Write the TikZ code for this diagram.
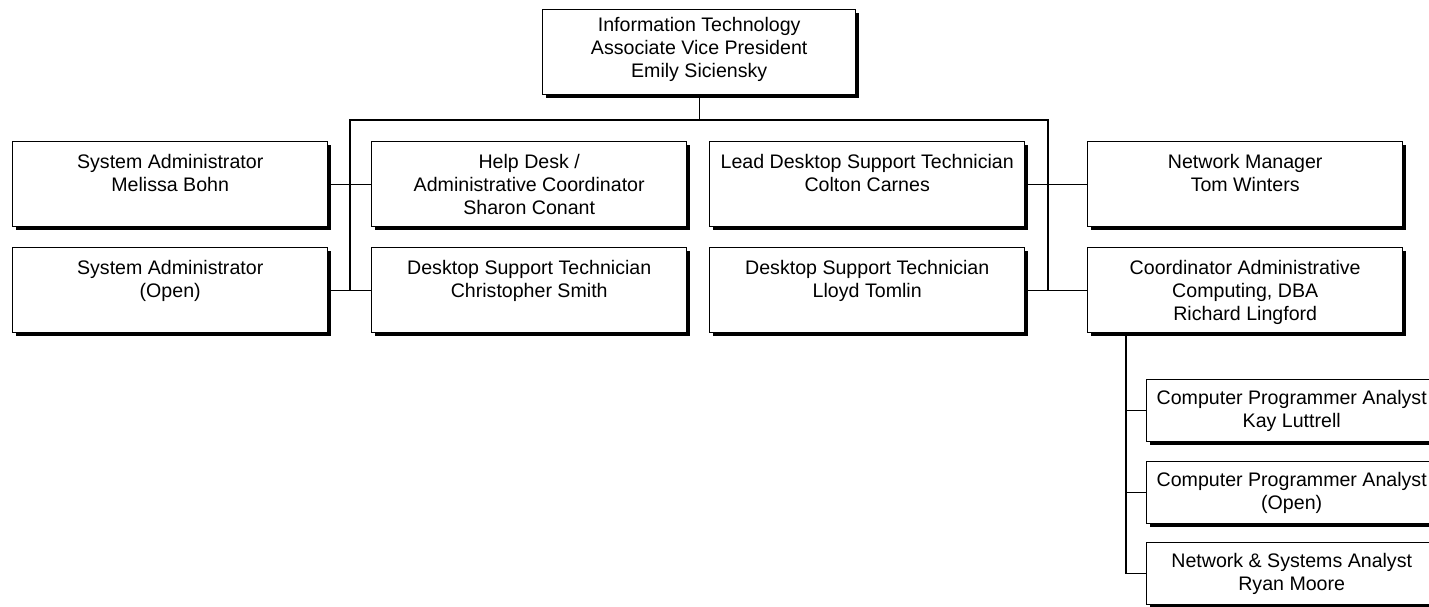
\documentclass[tikz,border=0pt]{standalone}
\usepackage{fontspec}
\setmainfont{Liberation Sans}
\usetikzlibrary{positioning,shadows}
\newcommand{\orgfont}{\fontsize{19.6}{23}\selectfont}

\begin{document}
\begin{tikzpicture}[x=1pt,y=-1pt]
        \tikzstyle{orgbox}=[draw=black,line width=1.4pt,fill=white,minimum width=315pt,minimum height=85pt,inner sep=0pt,anchor=north west,drop shadow={shadow xshift=3pt,shadow yshift=-3pt,fill=black,opacity=1}]
        \tikzstyle{subbox}=[orgbox,minimum width=290pt,minimum height=62pt,align=center,font=\orgfont]
        \tikzstyle{boxtext}=[align=center,inner sep=0pt,font=\orgfont]
        \tikzstyle{orgline}=[draw=black,line width=1.4pt]
        \useasboundingbox (0,0) rectangle (1429,607);
        \clip (0,0) rectangle (1429,607);
        % head of the department
        \node[orgbox,minimum width=313pt] (avp) at (542,9) {};
        \node[boxtext,below=8.5pt of avp.north] (avptext) {Information Technology\\Associate Vice President\\Emily Siciensky};
        % first row
        \node[orgbox] (sysbohn) at (12,141) {};
        \node[boxtext,below=13pt of sysbohn.north] (sysbohntext) {System Administrator\\Melissa Bohn};
        \node[orgbox] (helpdesk) at (371,141) {};
        \node[boxtext,below=13pt of helpdesk.north] (helpdesktext) {Help Desk /\\Administrative Coordinator\\Sharon Conant};
        \node[orgbox] (leadcarnes) at (709,141) {};
        \node[boxtext,below=13pt of leadcarnes.north] (leadcarnestext) {Lead Desktop Support Technician\\Colton Carnes};
        \node[orgbox] (netmgr) at (1087,141) {};
        \node[boxtext,below=13pt of netmgr.north] (netmgrtext) {Network Manager\\Tom Winters};
        % second row
        \node[orgbox] (sysopen) at (12,247) {};
        \node[boxtext,below=13pt of sysopen.north] (sysopentext) {System Administrator\\(Open)};
        \node[orgbox] (dsmith) at (371,247) {};
        \node[boxtext,below=13pt of dsmith.north] (dsmithtext) {Desktop Support Technician\\Christopher Smith};
        \node[orgbox] (dtomlin) at (709,247) {};
        \node[boxtext,below=13pt of dtomlin.north] (dtomlintext) {Desktop Support Technician\\Lloyd Tomlin};
        \node[orgbox] (coordadm) at (1087,247) {};
        \node[boxtext,below=13pt of coordadm.north] (coordadmtext) {Coordinator Administrative\\Computing, DBA\\Richard Lingford};
        % under the DBA
        \node[subbox] (cpaluttrell) at (1146,379) {Computer Programmer Analyst\\Kay Luttrell};
        \node[subbox] (cpaopen) at (1146,461) {Computer Programmer Analyst\\(Open)};
        \node[subbox] (nsamoore) at (1146,542) {Network \& Systems Analyst\\Ryan Moore};
        % connectors
        \coordinate (busleft) at (350,120);
        \coordinate (busright) at (1048,120);
        \coordinate (subtrunk) at (1126,332);
        \draw[orgline] (avp.south) -- (avp.south |- busleft);
        \draw[orgline] (busleft |- sysopen.east) -- (busleft) -- (busright) -- (busright |- coordadm.west);
        \draw[orgline] (sysbohn.east) -- (helpdesk.west);
        \draw[orgline] (sysopen.east) -- (dsmith.west);
        \draw[orgline] (leadcarnes.east) -- (netmgr.west);
        \draw[orgline] (dtomlin.east) -- (coordadm.west);
        \draw[orgline] (subtrunk) -- (subtrunk |- nsamoore.west) -- (nsamoore.west);
        \draw[orgline] (subtrunk |- cpaluttrell.west) -- (cpaluttrell.west);
        \draw[orgline] (subtrunk |- cpaopen.west) -- (cpaopen.west);
\end{tikzpicture}
\end{document}
